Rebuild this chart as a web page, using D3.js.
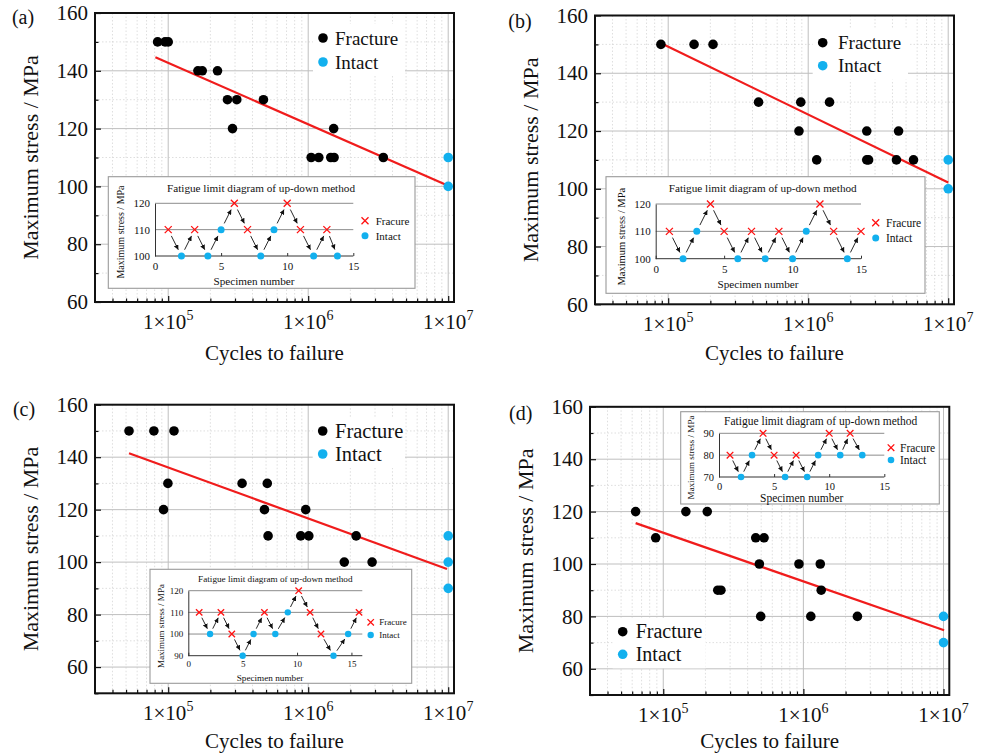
<!DOCTYPE html>
<html>
<head>
<meta charset="utf-8">
<script src="https://cdn.jsdelivr.net/npm/d3@7"></script>
<style>
  body { margin: 0; background: #fff; }
  svg { display: block; }
  text { font-family: "Liberation Serif", "Times New Roman", Times, serif; fill: #111; }
</style>
</head>
<body>
<svg id="fig" width="983" height="753"></svg>
<script>
// ---------- S-N data (cycles to failure, maximum stress in MPa) ----------
const cycleDomain = [3e4, 1.1e7];
const cycleTicks = [1e5, 1e6, 1e7];
const stressTicks = [60, 80, 100, 120, 140, 160];
const specimenTicks = [0, 5, 10, 15];

// (a)
const aFractureCycles = [8.4e4, 9.5e4, 1.0e5, 1.63e5, 1.75e5, 2.25e5, 2.65e5, 3.09e5, 4.79e5, 2.88e5, 1.52e6, 1.05e6, 1.19e6, 1.45e6, 1.53e6, 3.44e6];
const aFractureStress = [150, 150, 150, 140, 140, 140, 130, 130, 130, 120, 120, 110, 110, 110, 110, 110];
const aIntactCycles = [1e7, 1e7];
const aIntactStress = [110, 100];
const aFitCycles = [8.1e4, 1e7];
const aFitStress = [144.7, 100.2];
const aSpecimen = [1, 2, 3, 4, 5, 6, 7, 8, 9, 10, 11, 12, 13, 13.8];
const aSpecStress = [110, 100, 110, 100, 110, 120, 110, 100, 110, 120, 110, 100, 110, 100];
const aSpecResult = ["F", "I", "F", "I", "I", "F", "F", "I", "I", "F", "F", "I", "F", "I"];
const aSpecTicks = [100, 110, 120];

// (b)
const bFractureCycles = [8.87e4, 1.53e5, 2.09e5, 4.42e5, 8.85e5, 1.42e6, 8.59e5, 2.62e6, 4.42e6, 1.15e6, 2.62e6, 2.70e6, 4.27e6, 5.65e6];
const bFractureStress = [150, 150, 150, 130, 130, 130, 120, 120, 120, 110, 110, 110, 110, 110];
const bIntactCycles = [1e7, 1e7];
const bIntactStress = [110, 100];
const bFitCycles = [8.9e4, 1e7];
const bFitStress = [150.4, 102.2];
const bSpecimen = [1, 2, 3, 4, 5, 6, 7, 8, 9, 10, 11, 12, 13, 14, 15];
const bSpecStress = [110, 100, 110, 120, 110, 100, 110, 100, 110, 100, 110, 120, 110, 100, 110];
const bSpecResult = ["F", "I", "I", "F", "F", "I", "F", "I", "F", "I", "I", "F", "F", "I", "F"];
const bSpecTicks = [100, 110, 120];

// (c)
const cFractureCycles = [5.25e4, 7.9e4, 1.1e5, 9.95e4, 3.37e5, 5.1e5, 9.26e4, 4.87e5, 9.6e5, 5.17e5, 8.85e5, 1.01e6, 2.2e6, 1.81e6, 2.86e6];
const cFractureStress = [150, 150, 150, 130, 130, 130, 120, 120, 120, 110, 110, 110, 110, 100, 100];
const cIntactCycles = [1e7, 1e7, 1e7];
const cIntactStress = [110, 100, 90];
const cFitCycles = [5.25e4, 9.8e6];
const cFitStress = [141.5, 97.4];
const cSpecimen = [1, 2, 3, 4, 5, 6, 7, 8, 9.15, 10.15, 11.2, 12.2, 13.35, 14.7, 15.7];
const cSpecStress = [110, 100, 110, 100, 90, 100, 110, 100, 110, 120, 110, 100, 90, 100, 110];
const cSpecResult = ["F", "I", "F", "F", "I", "I", "F", "I", "I", "F", "F", "F", "I", "I", "F"];
const cSpecTicks = [90, 100, 110, 120];

// (d)
const dFractureCycles = [6.35e4, 1.45e5, 2.06e5, 8.83e4, 4.57e5, 5.24e5, 4.85e5, 9.3e5, 1.32e6, 2.45e5, 2.58e5, 1.34e6, 4.96e5, 1.13e6, 2.43e6];
const dFractureStress = [120, 120, 120, 110, 110, 110, 100, 100, 100, 90, 90, 90, 80, 80, 80];
const dIntactCycles = [1e7, 1e7];
const dIntactStress = [80, 70];
const dFitCycles = [6.35e4, 1.01e7];
const dFitStress = [115.6, 74.7];
const dSpecimen = [1, 2, 3, 4, 5, 6, 7, 8, 9, 10, 11, 11.9, 13];
const dSpecStress = [80, 70, 80, 90, 80, 70, 80, 70, 80, 90, 80, 90, 80];
const dSpecResult = ["F", "I", "I", "F", "F", "I", "F", "I", "I", "F", "I", "F", "I"];
const dSpecTicks = [70, 80, 90];

// ---------- styles ----------
const BLUE = "#12b0ee";
const RED = "#f01c1c";
const svg = d3.select("#fig");

svg.append("defs").append("marker")
  .attr("id", "arrowhead")
  .attr("viewBox", "0 0 10 10")
  .attr("refX", 10).attr("refY", 5)
  .attr("markerWidth", 5).attr("markerHeight", 5)
  .attr("markerUnits", "userSpaceOnUse")
  .attr("orient", "auto")
  .append("path").attr("d", "M0,0 L10,5 L0,10 Z").attr("fill", "#111");

const zip = (a, b) => a.map((v, i) => [v, b[i]]);

// ---------- main S-N panel ----------
function drawMain(p) {
  const g = svg.append("g");
  const x = d3.scaleLog().domain(cycleDomain).range([p.left, p.right]);
  const y = d3.scaleLinear().domain(p.yDomain).range([p.bottom, p.top]);

  const minorX = [];
  for (let e = 4; e <= 6; e++) {
    for (let k = 2; k <= 9; k++) {
      const v = k * Math.pow(10, e);
      if (v > cycleDomain[0] * 1.01 && v < cycleDomain[1]) minorX.push(v);
    }
  }
  const yMinor = d3.range(p.yDomain[0], p.yDomain[1] + 1, 10).filter(v => !stressTicks.includes(v));

  // dotted minor grid
  const grid = g.append("g");
  grid.selectAll(".mx").data(minorX).join("line")
    .attr("x1", d => x(d)).attr("x2", d => x(d)).attr("y1", p.top).attr("y2", p.bottom)
    .attr("stroke", "#d6d6d6").attr("stroke-width", 0.8).attr("stroke-dasharray", "1.5,2");
  grid.selectAll(".my").data(yMinor).join("line")
    .attr("x1", p.left).attr("x2", p.right).attr("y1", d => y(d)).attr("y2", d => y(d))
    .attr("stroke", "#d6d6d6").attr("stroke-width", 0.8).attr("stroke-dasharray", "1.5,2");
  // solid major grid
  grid.selectAll(".Mx").data(cycleTicks).join("line")
    .attr("x1", d => x(d)).attr("x2", d => x(d)).attr("y1", p.top).attr("y2", p.bottom)
    .attr("stroke", "#bfbfbf").attr("stroke-width", 1);
  grid.selectAll(".My").data(stressTicks).join("line")
    .attr("x1", p.left).attr("x2", p.right).attr("y1", d => y(d)).attr("y2", d => y(d))
    .attr("stroke", "#bfbfbf").attr("stroke-width", 1);

  // fitted S-N line
  g.append("path")
    .datum(zip(p.fitCycles, p.fitStress))
    .attr("d", d3.line().x(d => x(d[0])).y(d => y(d[1])))
    .attr("fill", "none").attr("stroke", RED).attr("stroke-width", 2.2);

  // specimens
  g.append("g").selectAll("circle").data(zip(p.fractureCycles, p.fractureStress)).join("circle")
    .attr("cx", d => x(d[0])).attr("cy", d => y(d[1])).attr("r", 4.8).attr("fill", "#000");
  g.append("g").selectAll("circle").data(zip(p.intactCycles, p.intactStress)).join("circle")
    .attr("cx", d => x(d[0])).attr("cy", d => y(d[1])).attr("r", 4.8).attr("fill", BLUE);

  // inward ticks
  const bottomMajor = d3.axisBottom(x).tickValues(cycleTicks).tickSize(-6).tickFormat("");
  const bottomMinor = d3.axisBottom(x).tickValues(minorX).tickSize(-3.5).tickFormat("");
  const leftMajor = d3.axisLeft(y).tickValues(stressTicks).tickSize(-6).tickPadding(7)
    .tickFormat(d3.format("d"));
  const leftMinor = d3.axisLeft(y).tickValues(yMinor).tickSize(-3.5).tickFormat("");
  [bottomMajor, bottomMinor].forEach(ax => {
    const a = g.append("g").attr("transform", `translate(0,${p.bottom})`).call(ax);
    a.select(".domain").remove();
    a.selectAll("line").attr("stroke", "#111").attr("stroke-width", 1.2);
  });
  [leftMajor, leftMinor].forEach(ax => {
    const a = g.append("g").attr("transform", `translate(${p.left},0)`).call(ax);
    a.select(".domain").remove();
    a.selectAll("line").attr("stroke", "#111").attr("stroke-width", 1.2);
    a.selectAll("text").attr("font-size", 21).attr("font-family", null).attr("fill", "#111");
  });

  // 1×10^n labels
  const xl = g.append("g").selectAll("text").data(cycleTicks).join("text")
    .attr("x", d => x(d)).attr("y", p.bottom + 27)
    .attr("text-anchor", "middle").attr("font-size", 21);
  xl.append("tspan").text("1×10");
  xl.append("tspan").attr("dy", -9).attr("font-size", 14).text(d => Math.round(Math.log10(d)));

  // frame
  g.append("rect").attr("x", p.left).attr("y", p.top)
    .attr("width", p.right - p.left).attr("height", p.bottom - p.top)
    .attr("fill", "none").attr("stroke", "#111").attr("stroke-width", 2);

  // axis titles
  g.append("text").attr("x", (p.left + p.right) / 2).attr("y", p.xTitleY)
    .attr("text-anchor", "middle").attr("font-size", 21).text("Cycles to failure");
  g.append("text")
    .attr("transform", `translate(${p.left - 65},${(p.top + p.bottom) / 2}) rotate(-90)`)
    .attr("text-anchor", "middle").attr("dy", "0.35em").attr("font-size", 22)
    .text("Maximum stress / MPa");
  g.append("text").attr("x", p.tag[1]).attr("y", p.tag[2])
    .attr("text-anchor", "middle").attr("font-size", 20).text(p.tag[0]);

  // legend
  const L = p.legend;
  g.append("rect").attr("x", L.x - 10).attr("y", L.y1 - 14)
    .attr("width", L.tx - L.x + 80).attr("height", L.y2 - L.y1 + 28).attr("fill", "#fff");
  [["Fracture", "#000", L.y1], ["Intact", BLUE, L.y2]].forEach(([label, col, yy]) => {
    g.append("circle").attr("cx", L.x).attr("cy", yy).attr("r", 4.8).attr("fill", col);
    g.append("text").attr("x", L.tx).attr("y", yy + 6.5).attr("font-size", L.size).text(label);
  });

  drawInset(p.inset);
}

// ---------- up-down method inset ----------
function drawInset(s) {
  const g = svg.append("g");
  g.append("rect").attr("x", s.box[0]).attr("y", s.box[1])
    .attr("width", s.box[2]).attr("height", s.box[3])
    .attr("fill", "#fff").attr("stroke", "#9a9a9a").attr("stroke-width", 1.1);

  const x = d3.scaleLinear().domain(s.xDomain).range(s.xRange);
  const y = d3.scaleLinear().domain(d3.extent(s.yTicks)).range(s.yRange);
  const y0 = y(s.yTicks[0]);

  // grid lines at upper stress levels
  g.append("g").selectAll("line").data(s.yTicks.slice(1)).join("line")
    .attr("x1", s.xRange[0]).attr("x2", s.xRange[1])
    .attr("y1", d => y(d)).attr("y2", d => y(d))
    .attr("stroke", "#8c8c8c").attr("stroke-width", 1);

  // axes
  const xa = g.append("g").attr("transform", `translate(0,${y0})`)
    .call(d3.axisBottom(x).tickValues(specimenTicks).tickSize(-3).tickPadding(s.tickSize * 0.55));
  xa.select(".domain").attr("stroke", "#333").attr("d", `M${s.xRange[0]},0H${s.xRange[1]}`);
  xa.selectAll("line").attr("stroke", "#333");
  xa.selectAll("text").attr("font-size", s.tickSize).attr("font-family", null).attr("fill", "#222");

  const ya = g.append("g").attr("transform", `translate(${s.xRange[0]},0)`)
    .call(d3.axisLeft(y).tickValues(s.yTicks).tickSize(0).tickPadding(5));
  ya.select(".domain").attr("stroke", "#333");
  ya.selectAll("text").attr("font-size", s.tickSize).attr("font-family", null).attr("fill", "#222");

  // arrows between successive tests
  const pts = s.specimen.map((v, i) => [x(v), y(s.stress[i])]);
  const arrows = [];
  for (let i = 0; i < pts.length - 1; i++) {
    const [x1, y1] = pts[i], [x2, y2] = pts[i + 1];
    const len = Math.hypot(x2 - x1, y2 - y1), ux = (x2 - x1) / len, uy = (y2 - y1) / len;
    arrows.push([x1 + ux * s.gap, y1 + uy * s.gap, x2 - ux * s.gap, y2 - uy * s.gap]);
  }
  g.append("g").selectAll("line").data(arrows).join("line")
    .attr("x1", d => d[0]).attr("y1", d => d[1]).attr("x2", d => d[2]).attr("y2", d => d[3])
    .attr("stroke", "#111").attr("stroke-width", 0.9).attr("marker-end", "url(#arrowhead)");

  // markers
  const data = s.specimen.map((v, i) => ({ n: v, st: s.stress[i], r: s.result[i] }));
  g.append("g").selectAll("circle").data(data.filter(d => d.r === "I")).join("circle")
    .attr("cx", d => x(d.n)).attr("cy", d => y(d.st)).attr("r", s.dot).attr("fill", BLUE);
  const cross = (sel, cx, cy, h) => {
    sel.append("path").attr("d", `M${cx - h},${cy - h}L${cx + h},${cy + h}M${cx - h},${cy + h}L${cx + h},${cy - h}`)
      .attr("stroke", "#ff1010").attr("stroke-width", 1.3).attr("fill", "none");
  };
  const fx = g.append("g");
  data.filter(d => d.r === "F").forEach(d => cross(fx, x(d.n), y(d.st), s.dot));

  // texts
  g.append("text").attr("x", s.title[0]).attr("y", s.title[1]).attr("text-anchor", "middle")
    .attr("font-size", s.titleSize).text("Fatigue limit diagram of up-down method");
  g.append("text").attr("x", s.xTitle[0]).attr("y", s.xTitle[1]).attr("text-anchor", "middle")
    .attr("font-size", s.titleSize).text("Specimen number");
  g.append("text")
    .attr("transform", `translate(${s.yTitle[0]},${s.yTitle[1]}) rotate(-90)`)
    .attr("text-anchor", "middle").attr("dy", "0.35em").attr("font-size", s.yTitleSize)
    .text("Maximum stress / MPa");

  // legend
  const L = s.legend;
  cross(g, L.x, L.y1, s.dot);
  g.append("text").attr("x", L.tx).attr("y", L.y1 + L.size * 0.35).attr("font-size", L.size).text("Fracure");
  g.append("circle").attr("cx", L.x).attr("cy", L.y2).attr("r", s.dot).attr("fill", BLUE);
  g.append("text").attr("x", L.tx).attr("y", L.y2 + L.size * 0.35).attr("font-size", L.size).text("Intact");
}

// ---------- panels ----------
drawMain({
  left: 95, right: 454, top: 13, bottom: 302, yDomain: [60, 160], xTitleY: 360, tag: ["(a)", 23, 24],
  fractureCycles: aFractureCycles, fractureStress: aFractureStress,
  intactCycles: aIntactCycles, intactStress: aIntactStress,
  fitCycles: aFitCycles, fitStress: aFitStress,
  legend: { x: 323, y1: 38, y2: 62, tx: 335, size: 19 },
  inset: {
    box: [108.3, 176.7, 306.7, 111.6], xDomain: [0, 15], xRange: [155, 353.3], yRange: [256, 203.3],
    yTicks: aSpecTicks, specimen: aSpecimen, stress: aSpecStress, result: aSpecResult,
    title: [261, 192], titleSize: 11.2, xTitle: [254, 284.5], yTitle: [120, 232], yTitleSize: 10,
    tickSize: 11, dot: 3.5, gap: 7,
    legend: { x: 365, y1: 220.7, y2: 235.7, tx: 375.7, size: 11 }
  }
});

drawMain({
  left: 595, right: 954, top: 15.5, bottom: 304.3, yDomain: [60, 160], xTitleY: 360, tag: ["(b)", 520, 28],
  fractureCycles: bFractureCycles, fractureStress: bFractureStress,
  intactCycles: bIntactCycles, intactStress: bIntactStress,
  fitCycles: bFitCycles, fitStress: bFitStress,
  legend: { x: 822.7, y1: 42.7, y2: 65.7, tx: 838, size: 19 },
  inset: {
    box: [606, 176.7, 319, 116.6], xDomain: [0, 15], xRange: [655.7, 861], yRange: [258.7, 204],
    yTicks: bSpecTicks, specimen: bSpecimen, stress: bSpecStress, result: bSpecResult,
    title: [762.7, 192], titleSize: 11.2, xTitle: [758, 288], yTitle: [621.7, 236.7], yTitleSize: 10.5,
    tickSize: 11, dot: 3.5, gap: 7,
    legend: { x: 875.7, y1: 222.7, y2: 238, tx: 886, size: 11.5 }
  }
});

drawMain({
  left: 95, right: 454, top: 404.7, bottom: 693.3, yDomain: [50, 160], xTitleY: 748, tag: ["(c)", 24, 416],
  fractureCycles: cFractureCycles, fractureStress: cFractureStress,
  intactCycles: cIntactCycles, intactStress: cIntactStress,
  fitCycles: cFitCycles, fitStress: cFitStress,
  legend: { x: 322.7, y1: 431, y2: 454, tx: 335, size: 20.5 },
  inset: {
    box: [150, 569.3, 261.7, 114], xDomain: [0, 16], xRange: [188.3, 362.3], yRange: [655.7, 590.7],
    yTicks: cSpecTicks, specimen: cSpecimen, stress: cSpecStress, result: cSpecResult,
    title: [275.3, 582], titleSize: 9.2, xTitle: [270, 680.5], yTitle: [161, 626], yTitleSize: 9,
    tickSize: 9, dot: 3.2, gap: 6,
    legend: { x: 370.7, y1: 622.3, y2: 635, tx: 379.3, size: 9 }
  }
});

drawMain({
  left: 590, right: 949.3, top: 406.8, bottom: 695, yDomain: [50, 160], xTitleY: 748, tag: ["(d)", 520.7, 420],
  fractureCycles: dFractureCycles, fractureStress: dFractureStress,
  intactCycles: dIntactCycles, intactStress: dIntactStress,
  fitCycles: dFitCycles, fitStress: dFitStress,
  legend: { x: 622.7, y1: 631.7, y2: 654.3, tx: 635.7, size: 20 },
  inset: {
    box: [680.7, 411.7, 258.6, 92.3], xDomain: [0, 15], xRange: [719, 884.3], yRange: [477, 433.3],
    yTicks: dSpecTicks, specimen: dSpecimen, stress: dSpecStress, result: dSpecResult,
    title: [820.7, 425], titleSize: 11.5, xTitle: [801.7, 501.5], yTitle: [691, 457.5], yTitleSize: 9,
    tickSize: 10.5, dot: 3.3, gap: 6,
    legend: { x: 891, y1: 447.7, y2: 460, tx: 900, size: 11.5 }
  }
});
</script>
</body>
</html>
